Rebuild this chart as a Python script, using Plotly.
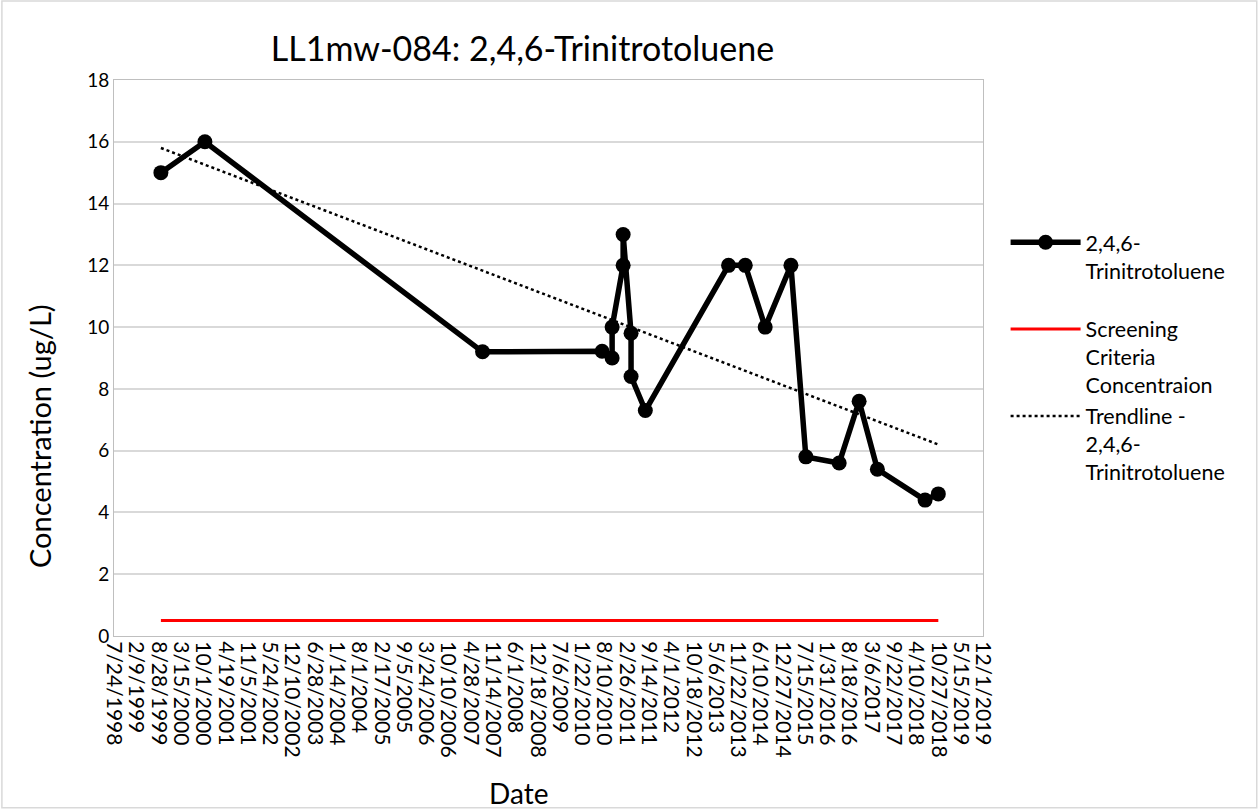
from __future__ import annotations

import pandas as pd
import plotly.graph_objects as go

# sample dates and 2,4,6-TNT concentrations (ug/L)
sample_dates = [
    "1999-09-18", "2000-10-17", "2007-08-14", "2010-07-22", "2010-10-20",
    "2010-10-20", "2011-01-27", "2011-01-27", "2011-04-08", "2011-04-08",
    "2011-08-14", "2013-08-30", "2014-01-27", "2014-07-25", "2015-03-13",
    "2015-07-25", "2016-05-19", "2016-11-14", "2017-04-27", "2018-06-29",
    "2018-10-26",
]
tnt_values = [
    15.0, 16.0, 9.2, 9.22, 9.0,
    10.0, 12.0, 13.0, 9.8, 8.4,
    7.3, 12.0, 12.0, 10.0, 12.0,
    5.8, 5.6, 7.6, 5.4, 4.4,
    4.6,
]

screening_value = 0.5
trend_dates = ["1999-09-18", "2018-10-26"]
trend_values = [15.8, 6.2]

axis_start = "1998-07-24"
axis_end = "2019-12-01"
tick_dates = pd.date_range(axis_start, periods=40, freq="200D")

FONT = "Lato, 'Open Sans', sans-serif"

fig = go.Figure()

fig.add_trace(go.Scatter(
    x=sample_dates,
    y=tnt_values,
    mode="lines+markers",
    name="2,4,6-<br>Trinitrotoluene<br> ",
    line=dict(color="black", width=5.5),
    marker=dict(color="black", size=15),
))

fig.add_trace(go.Scatter(
    x=[sample_dates[0], sample_dates[-1]],
    y=[screening_value, screening_value],
    mode="lines",
    name="Screening<br>Criteria<br>Concentraion",
    line=dict(color="#ff0000", width=3),
))

fig.add_trace(go.Scatter(
    x=trend_dates,
    y=trend_values,
    mode="lines",
    name="Trendline -<br>2,4,6-<br>Trinitrotoluene",
    line=dict(color="black", width=2.5, dash="dot"),
))

fig.update_layout(
    width=1259,
    height=810,
    paper_bgcolor="white",
    plot_bgcolor="white",
    font=dict(family=FONT, color="black", size=18),
    margin=dict(l=114, r=276, t=80, b=174),
    title=dict(
        text="LL1mw-084: 2,4,6-Trinitrotoluene",
        x=0.415, xanchor="center", y=0.94, yanchor="middle",
        font=dict(size=34),
    ),
    legend=dict(
        x=1.026, xanchor="left", y=0.745, yanchor="top",
        valign="top",
        font=dict(size=21.5),
        itemwidth=70,
        tracegroupgap=0,
    ),
    showlegend=True,
)

fig.update_xaxes(
    type="date",
    range=[axis_start, axis_end],
    tickvals=tick_dates,
    tickformat="%-m/%-d/%Y",
    tickangle=90,
    tickfont=dict(size=21),
    showgrid=False,
    showline=True,
    linecolor="#bfbfbf",
    mirror=True,
)

fig.update_yaxes(
    range=[0, 18],
    dtick=2,
    showgrid=True,
    gridcolor="#d9d9d9",
    gridwidth=1.5,
    showline=True,
    linecolor="#bfbfbf",
    mirror=True,
    zeroline=False,
    tickfont=dict(size=19),
)

# axis titles placed as in the original (not centred on the plot area)
fig.add_annotation(
    text="Date", xref="paper", yref="paper",
    x=0.466, y=-0.283, showarrow=False,
    xanchor="center", yanchor="middle",
    font=dict(size=28),
)
fig.add_annotation(
    text="Concentration (ug/L)", xref="paper", yref="paper",
    x=-0.085, y=0.36, showarrow=False, textangle=-90,
    xanchor="center", yanchor="middle",
    font=dict(size=29),
)

fig.add_shape(
    type="rect", xref="paper", yref="paper",
    x0=-0.129, x1=1.315, y0=-0.309, y1=1.142,
    line=dict(color="#d9d9d9", width=1.5),
)

fig.write_html(
    "out.html",
    config={"displayModeBar": False},
    post_script="document.body.style.margin='0';",
)
